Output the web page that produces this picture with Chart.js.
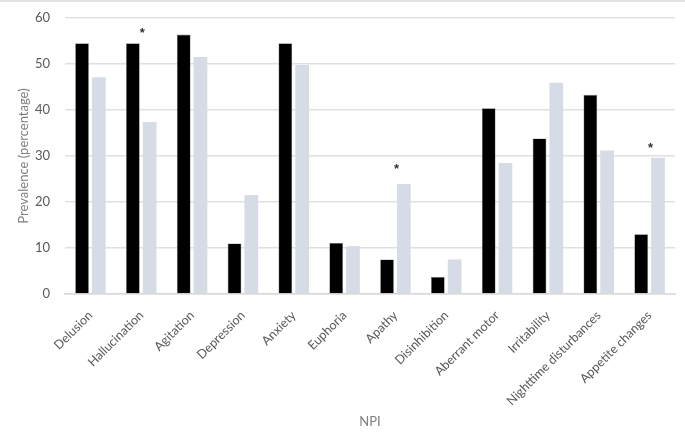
<!DOCTYPE html>
<html>
<head>
<meta charset="utf-8">
<script src="https://cdn.jsdelivr.net/npm/chart.js@4/dist/chart.umd.min.js"></script>
<style>
  html, body { margin: 0; padding: 0; background: #fff; }
  #wrap { width: 685px; height: 432px; position: relative; box-sizing: border-box; border-top: 2px solid #e3e3e3; }
</style>
</head>
<body>
<div id="wrap"><canvas id="chart" width="685" height="430"></canvas></div>
<script>
// NPI symptom categories
const categories = ['Delusion', 'Hallucination', 'Agitation', 'Depression', 'Anxiety', 'Euphoria',
    'Apathy', 'Disinhibition', 'Aberrant motor', 'Irritability', 'Nighttime disturbances', 'Appetite changes'];
// prevalence (%) per group
const groupA = [54.5, 54.5, 56.4, 11.0, 54.5, 11.1, 7.5, 3.7, 40.4, 33.8, 43.3, 13.0];
const groupB = [47.1, 37.4, 51.5, 21.5, 49.8, 10.4, 23.9, 7.5, 28.5, 45.9, 31.2, 29.6];
// significance markers: category index and height (%) of the asterisk
const starIndex = [1, 6, 11];
const starValue = [57.3, 27.8, 32.3];

const FONT = 'Lato, "Open Sans", sans-serif';

const starPlugin = {
    id: 'stars',
    afterDatasetsDraw(chart) {
        const { ctx, scales: { x, y } } = chart;
        ctx.save();
        ctx.fillStyle = '#333';
        ctx.font = 'bold 13px "Liberation Sans", sans-serif';
        ctx.textAlign = 'center';
        ctx.textBaseline = 'middle';
        starIndex.forEach((idx, i) => {
            ctx.fillText('*', x.getPixelForValue(idx) + 1, y.getPixelForValue(starValue[i]) + 3);
        });
        ctx.restore();
    }
};

new Chart(document.getElementById('chart').getContext('2d'), {
    type: 'bar',
    data: {
        labels: categories,
        datasets: [
            { label: 'Group A', data: groupA, backgroundColor: '#000', borderColor: '#7f7f7f', borderWidth: 0.6,
              categoryPercentage: 0.66, barPercentage: 0.82 },
            { label: 'Group B', data: groupB, backgroundColor: '#d6dce5', borderWidth: 0,
              categoryPercentage: 0.66, barPercentage: 0.82 }
        ]
    },
    options: {
        responsive: false,
        animation: false,
        layout: { padding: { left: 12, right: 10, top: 16, bottom: 2 } },
        plugins: {
            legend: { display: false },
            tooltip: { enabled: false }
        },
        scales: {
            x: {
                afterFit(s) { s.paddingLeft = 0; s.paddingRight = 0; },
                grid: { display: false },
                border: { color: '#d9d9d9', width: 1.5 },
                ticks: { color: '#595959', font: { family: FONT, size: 12.5 },
                         maxRotation: 45, minRotation: 45, padding: 6 },
                title: { display: true, text: 'NPI', color: '#7f7f7f',
                         font: { family: FONT, size: 13 }, padding: { top: 0, bottom: 0 } }
            },
            y: {
                // fixed axis width so the plot starts where the original does
                afterFit(s) { s.paddingTop = 0; s.paddingBottom = 0; s.width = 53; },
                min: 0, max: 60,
                ticks: { stepSize: 10, color: '#595959', padding: 15,
                         font: { family: FONT, size: 13 } },
                grid: { color: '#e0e0e0', lineWidth: 1.5, drawTicks: false },
                border: { display: false },
                title: { display: true, text: 'Prevalence (percentage)', color: '#7f7f7f',
                         font: { family: FONT, size: 13 }, padding: { top: 4, bottom: 0 } }
            }
        }
    },
    plugins: [starPlugin]
});
</script>
</body>
</html>
